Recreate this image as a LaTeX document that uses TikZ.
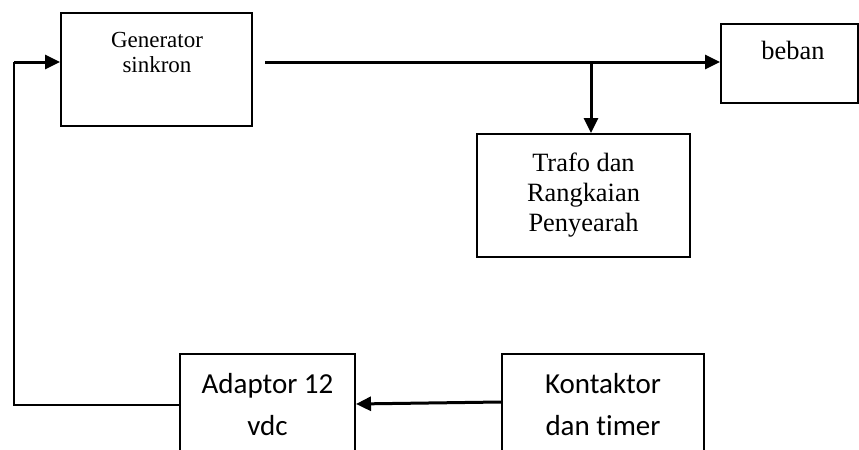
\documentclass[tikz,border=0pt]{standalone}
\usepackage{fontspec}
\setmainfont{Liberation Serif}
\newfontfamily\calibri[Ligatures=CommonOff]{Carlito}
\usetikzlibrary{arrows.meta}

\begin{document}
\begin{tikzpicture}[x=0.5pt, y=-0.5pt,
  box/.style = {draw, line width=1pt, inner sep=0pt},
  serif/.style = {font=\fontsize{13.2}{15}\selectfont, align=center},
  sans/.style = {font=\calibri\fontsize{14.5}{21}\selectfont, align=center},
  flow/.style = {line width=1.5pt, -{Triangle[length=7.5pt, width=7pt]}}]
          \useasboundingbox (0,0) rectangle (859,450);
          \clip (0,0) rectangle (859,450);
          % Define nodes
          \node[box, minimum width=95.5pt, minimum height=56.5pt] (gen) at (156.5,69.5) {};
          \node[font=\fontsize{11.5}{12.5}\selectfont, align=center] (gentext) at (157,52) {Generator\\sinkron};
          \node[box, minimum width=68.5pt, minimum height=39.5pt] (beban) at (789.5,63.5) {};
          \node[serif] (bebantext) at (793,50) {beban};
          \node[box, serif, minimum width=106.5pt, minimum height=61.5pt] (trafo) at (583.5,195.5) {Trafo dan\\Rangkaian\\Penyearah};
          \node[box, sans, minimum width=87.5pt, minimum height=51pt] (adaptor) at (267.5,405) {Adaptor 12\\vdc};
          \node[box, sans, minimum width=101pt, minimum height=51pt] (kontaktor) at (603,405) {Kontaktor\\dan timer};
          % Add edges
          \coordinate (out) at (265,62);
          \coordinate (tap) at (591,62);
          \coordinate (back) at (14,62);
          \draw[flow] (out) -- (out -| beban.west);
          \draw[flow] (tap) -- (tap |- trafo.north);
          \draw[flow] ([yshift=1.5pt]kontaktor.west) -- ([yshift=0.5pt]adaptor.east);
          \draw[line width=1pt] (adaptor.west) -| (back);
          \draw[flow] (back) -- (back -| gen.west);
        \end{tikzpicture}
\end{document}
